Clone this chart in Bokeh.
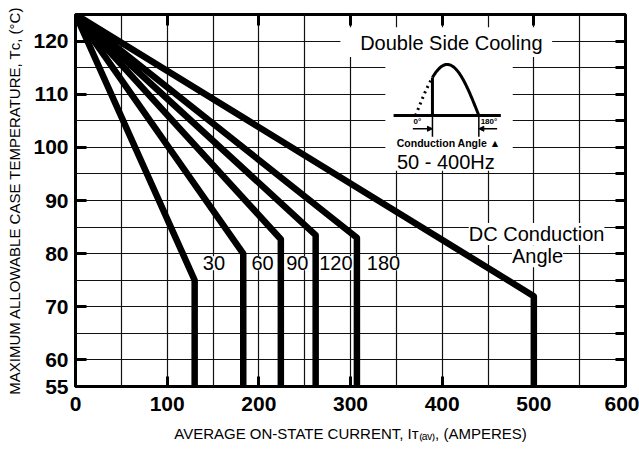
import numpy as np
from bokeh.plotting import figure
from bokeh.models import (Range1d, LinearAxis, FixedTicker, Label, BoxAnnotation,
                          Arrow, NormalHead, ColumnDataSource)
from bokeh.embed import file_html
from bokeh.resources import INLINE

# ---------------- data ----------------
angle_names = ["30", "60", "90", "120", "180", "DC"]
knee_current = [130, 183, 224, 262, 307, 500]      # A, where curve turns vertical
knee_temp = [75, 80, 82.7, 83.5, 83, 72]           # deg C at knee
start_current = 0
start_temp = 125
floor_temp = 55

x_ticks = [0, 100, 200, 300, 400, 500, 600]
y_ticks = [55, 60, 70, 80, 90, 100, 110, 120]
x_grid = [50, 100, 150, 200, 250, 300, 350, 400, 450, 500, 550]
y_grid = [60, 65, 70, 75, 80, 85, 90, 95, 100, 105, 110, 115, 120]

curve_label_text = ["30", "60", "90", "120", "180"]
curve_label_x = [151, 204, 242, 284, 336]
curve_label_y = [78.2, 78.2, 78.2, 78.2, 78.2]

x_title = "AVERAGE ON-STATE CURRENT, Iᴛ₍ₐᵥ₎, (AMPERES)"
y_title = "MAXIMUM ALLOWABLE CASE TEMPERATURE, Tᴄ, (°C)"

# ---------------- figure ----------------
FONT = "Liberation Sans"

p = figure(width=639, height=449, output_backend="svg", toolbar_location=None,
           x_range=Range1d(0, 600), y_range=Range1d(55, 125),
           min_border_left=75, min_border_right=14, min_border_top=14, min_border_bottom=63)
p.background_fill_color = "white"
p.border_fill_color = "white"
p.outline_line_color = "black"
p.outline_line_width = 3

# grid
p.xgrid.ticker = FixedTicker(ticks=x_grid)
p.ygrid.ticker = FixedTicker(ticks=y_grid)
for g in (p.xgrid, p.ygrid):
    g.grid_line_color = "#111111"
    g.grid_line_width = 1.2

# axes
def style_axis(ax, ticks, show_labels, tick_len, standoff):
    ax.ticker = FixedTicker(ticks=ticks)
    ax.axis_line_color = None
    ax.major_tick_in = tick_len
    ax.major_tick_out = 0
    ax.major_tick_line_width = 3
    ax.major_tick_line_color = "black"
    ax.minor_tick_line_color = None
    ax.major_label_standoff = standoff
    if show_labels:
        ax.major_label_text_font = FONT
        ax.major_label_text_font_style = "bold"
        ax.major_label_text_font_size = "21px"
        ax.major_label_text_color = "black"
    else:
        ax.major_label_text_font_size = "0px"
        ax.major_label_text_alpha = 0

xa = p.xaxis[0]
style_axis(xa, x_ticks, True, 10, 10)
ya = p.yaxis[0]
style_axis(ya, y_ticks, True, 11, 7)

for ax, txt, size, standoff in ((xa, x_title, "15px", 11), (ya, y_title, "15px", 7)):
    ax.axis_label = txt
    ax.axis_label_text_font = FONT
    ax.axis_label_text_font_size = size
    ax.axis_label_text_font_style = "normal"
    ax.axis_label_text_color = "black"
    ax.axis_label_standoff = standoff

top_ax = LinearAxis()
style_axis(top_ax, [100, 200, 300, 400, 500], False, 11, 0)
p.add_layout(top_ax, "above")
right_ax = LinearAxis()
style_axis(right_ax, y_grid, False, 10, 0)
p.add_layout(right_ax, "right")

# ---------------- inset background panels (under curves, over grid) ----------------
p.add_layout(BoxAnnotation(left=338, right=477, bottom=95.6, top=117,
                           fill_color="white", fill_alpha=1, line_color=None, level="underlay"))
p.add_layout(BoxAnnotation(left=289, right=520, bottom=117, top=122.6,
                           fill_color="white", fill_alpha=1, line_color=None, level="underlay"))

# ---------------- curve labels ----------------
for t, lx, ly in zip(curve_label_text, curve_label_x, curve_label_y):
    p.add_layout(Label(x=lx, y=ly, text=t, text_font=FONT, text_font_size="20px",
                       text_align="center", text_baseline="middle", text_color="black",
                       background_fill_color="white", level="underlay"))

p.add_layout(Label(x=503, y=83.7, text="DC Conduction", text_font=FONT, text_font_size="20px",
                   text_align="center", text_baseline="middle", text_color="black",
                   background_fill_color="white", level="underlay"))
p.add_layout(Label(x=504, y=79.5, text="Angle", text_font=FONT, text_font_size="20px",
                   text_align="center", text_baseline="middle", text_color="black",
                   background_fill_color="white", level="underlay"))

# ---------------- curves ----------------
xs = [[start_current, kc, kc] for kc in knee_current]
ys = [[start_temp, kt, floor_temp] for kt in knee_temp]
src = ColumnDataSource(dict(xs=xs, ys=ys, name=angle_names))
p.multi_line("xs", "ys", source=src, line_color="black", line_width=6.5, line_join="round")

# ---------------- inset: conduction angle waveform ----------------
w_left, w_right, w_base, w_amp = 371, 440, 106.0, 9.6
cond_start_deg = 48
deg_dot = np.linspace(0, cond_start_deg, 20)
deg_sol = np.linspace(cond_start_deg, 180, 60)
def wx(d):
    return w_left + (w_right - w_left) * np.asarray(d) / 180.0
def wy(d):
    return w_base + w_amp * np.sin(np.radians(d))
p.line(wx(deg_dot), wy(deg_dot), line_color="black", line_width=3, line_dash="2 4")
p.line(wx(deg_sol), wy(deg_sol), line_color="black", line_width=3)
p.line([wx(cond_start_deg), wx(cond_start_deg)], [w_base, wy(cond_start_deg)],
       line_color="black", line_width=3)
p.line([347, 464], [w_base, w_base], line_color="black", line_width=3)
p.line([wx(cond_start_deg), wx(cond_start_deg)], [w_base, 102], line_color="black", line_width=1.5)
p.line([wx(180), wx(180)], [w_base, 102], line_color="black", line_width=1.5)
p.add_layout(Arrow(x_start=368, y_start=103.5, x_end=wx(cond_start_deg), y_end=103.5,
                   line_width=1.5, end=NormalHead(size=5, fill_color="black", line_color="black")))
p.add_layout(Arrow(x_start=460, y_start=103.5, x_end=wx(180), y_end=103.5,
                   line_width=1.5, end=NormalHead(size=5, fill_color="black", line_color="black")))

p.add_layout(Label(x=373, y=104.9, text="0°", text_font=FONT, text_font_style="bold",
                   text_font_size="8px", text_align="center", text_baseline="middle",
                   text_color="black"))
p.add_layout(Label(x=451, y=104.9, text="180°", text_font=FONT, text_font_style="bold",
                   text_font_size="8px", text_align="center", text_baseline="middle",
                   text_color="black"))
p.add_layout(Label(x=407, y=100.9, text="Conduction Angle ▲", text_font=FONT,
                   text_font_style="bold", text_font_size="10.5px",
                   text_align="center", text_baseline="middle", text_color="black"))
p.add_layout(Label(x=404, y=97.3, text="50 - 400Hz", text_font=FONT, text_font_size="20px",
                   text_align="center", text_baseline="middle", text_color="black"))
p.add_layout(Label(x=410, y=119.7, text="Double Side Cooling", text_font=FONT,
                   text_font_size="20px", text_align="center", text_baseline="middle",
                   text_color="black"))

open("out.html", "w").write(file_html(p, INLINE))
